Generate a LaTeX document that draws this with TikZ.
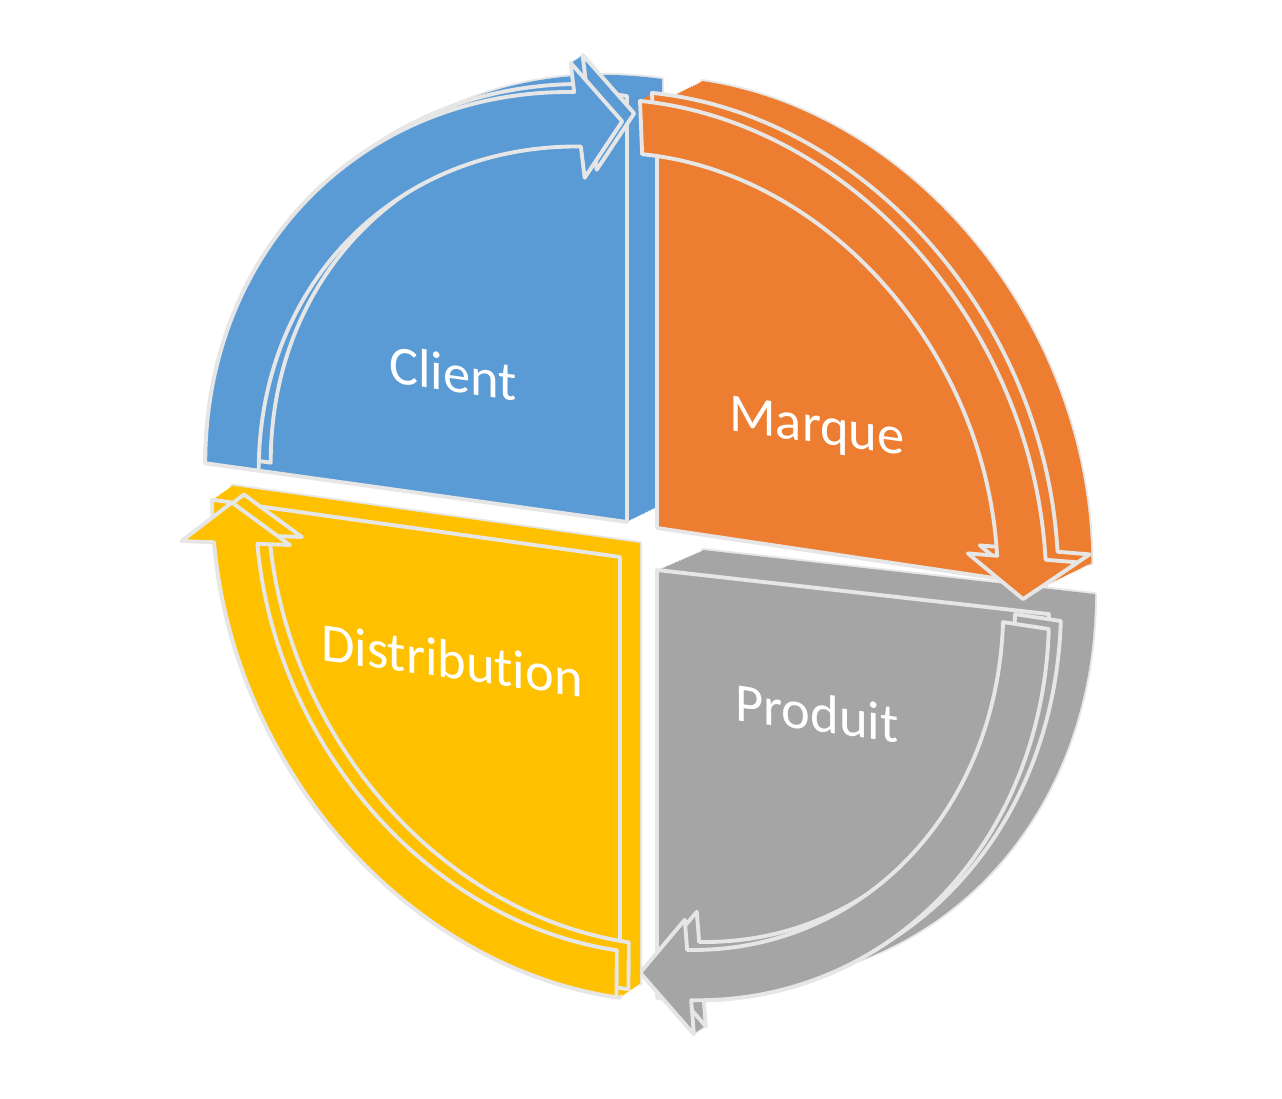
\documentclass[tikz,border=0pt]{standalone}
\usepackage{fontspec}
\setmainfont{Carlito}[Ligatures=NoCommon]
\definecolor{clientblue}{HTML}{5B9BD5}
\definecolor{marqueorange}{HTML}{ED7D31}
\definecolor{produitgray}{HTML}{A5A5A5}
\definecolor{distribyellow}{HTML}{FFC000}
\definecolor{edge}{HTML}{E7E6E6}
\tikzset{
	edge line/.style={draw=edge, line width=2.2pt, line join=round},
	client frame/.style={cm={0.99,-0.138,0,1,(627,-522)}},
	marque frame/.style={cm={0.916,-0.136,0,1,(657,-528)}},
	produit frame/.style={cm={0.916,-0.103,0,1,(657,-570)}},
	distrib frame/.style={cm={0.99,-0.139,0,1.07,(620,-557)}},
	seglabel/.style={text=white, font=\fontsize{31}{36}\selectfont, yslant=-0.14, inner sep=0pt}
}
% quarter slab and curved arrow, in the frame of one segment
\newcommand{\sector}[3]{(0,0) -- (#1:#3) arc[start angle=#1, end angle=#2, radius=#3] -- cycle}
\newcommand{\cyclearrow}[8]{(#1:#4) arc[start angle=#1, end angle=#2, radius=#4] -- (#2:#6) -- (#3:#8) -- (#2:#7) -- (#2:#5) arc[start angle=#2, end angle=#1, radius=#5] -- cycle}
% extruded shape: #1 frame, #2 colour, #3,#4 depth, #5 outline
\newcommand{\sweep}[5]{%
	\foreach \t in {1,0.96,...,0.03}{
		\begin{scope}[shift={(\t*#3,\t*#4)}]\begin{scope}[#1]
			\fill[#2] #5;
		\end{scope}\end{scope}}}
\newcommand{\backedge}[5]{%
	\begin{scope}[shift={(#3,#4)}]\begin{scope}[#1]
		\draw[edge line] #5;
	\end{scope}\end{scope}}
\newcommand{\slab}[5]{%
	\backedge{#1}{#2}{#3}{#4}{#5}
	\sweep{#1}{#2}{#3}{#4}{#5}
	\begin{scope}[#1]\filldraw[fill=#2, edge line] #5;\end{scope}}
\newcommand{\ringarrow}[5]{%
	\sweep{#1}{#2}{#3}{#4}{#5}
	\backedge{#1}{#2}{#3}{#4}{#5}
	\begin{scope}[#1]\filldraw[fill=#2, edge line] #5;\end{scope}}

\begin{document}
\begin{tikzpicture}[x=0.02cm, y=0.02cm]
	\useasboundingbox (0,0) rectangle (1282,-1099);
	% Produit
	\slab{produit frame}{produitgray}{46}{20}{\sector{-90}{0}{428}}
	\ringarrow{produit frame}{produitgray}{12}{8}{\cyclearrow{-2}{-85}{-92.6}{378}{428}{348}{462}{405}}
	% Distribution
	\slab{distrib frame}{distribyellow}{20}{14}{\sector{180}{270}{412}}
	\ringarrow{distrib frame}{distribyellow}{12}{8}{\cyclearrow{269.5}{185.5}{180}{368}{412}{335}{445}{392}}
	% Client
	\slab{client frame}{clientblue}{35}{17}{\sector{90}{180}{426}}
	\ringarrow{client frame}{clientblue}{12}{8}{\cyclearrow{180}{97.2}{90.7}{372}{426}{341}{455}{400}}
	% Marque
	\slab{marque frame}{marqueorange}{45}{22}{\sector{0}{90}{425}}
	\ringarrow{marque frame}{marqueorange}{12}{8}{\cyclearrow{92.5}{3.5}{-2.4}{372}{425}{340}{460}{400}}

	\node[seglabel] (client) at (453,-373) {Client};
	\node[seglabel] (marque) at (817,-430) {Marque};
	\node[seglabel] (produit) at (817,-713) {Produit};
	\node[seglabel] (distribution) at (452,-660) {Distribution};
\end{tikzpicture}
\end{document}
